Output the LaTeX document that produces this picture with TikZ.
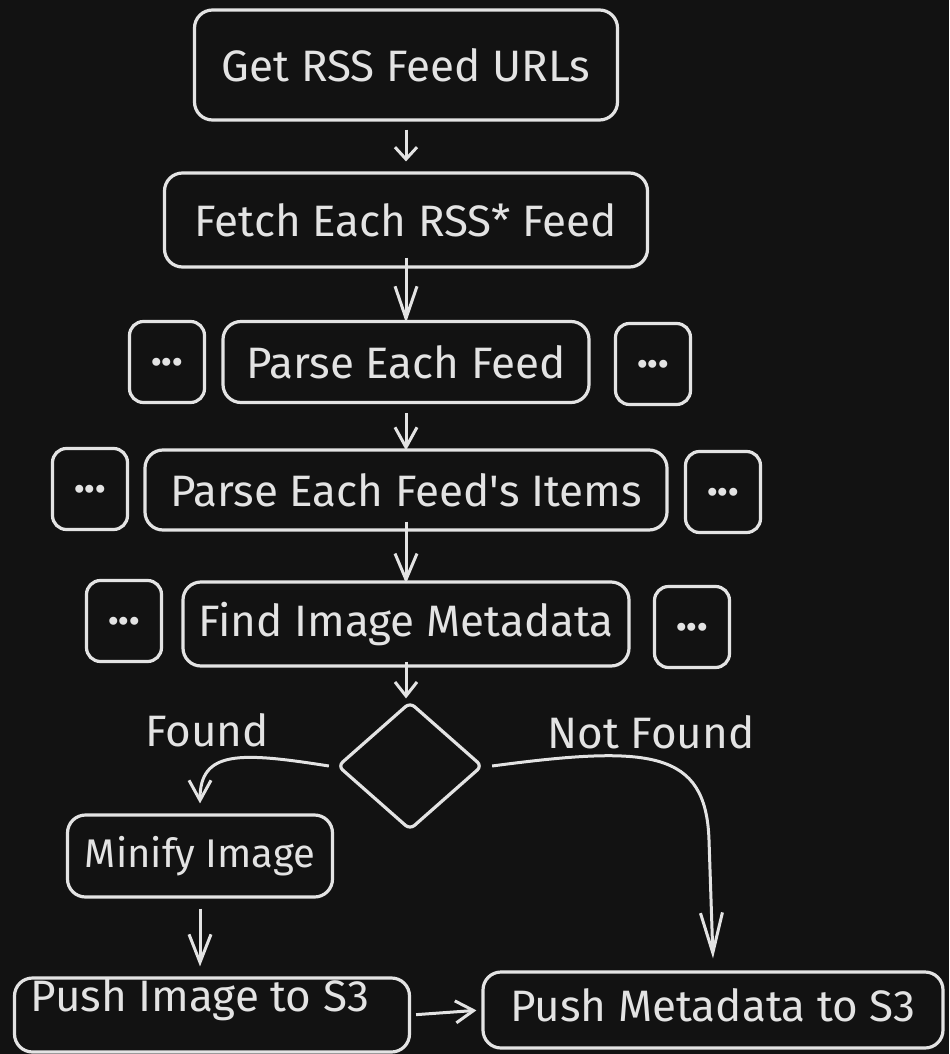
\documentclass[tikz,border=0pt]{standalone}
\usepackage{fontspec}
\setmainfont{Fira Sans}
\usetikzlibrary{arrows.meta,shapes.geometric}

\definecolor{canvas}{HTML}{121212}
\definecolor{chalk}{HTML}{E3E3E3}

\tikzset{
	stepbox/.style={draw=chalk, line width=1.6pt, rounded corners=9pt, inner sep=0pt,
		text=chalk, font=\fontsize{22}{25}\selectfont},
	dotbox/.style={stepbox, minimum width=37.5pt, minimum height=40.5pt, rounded corners=7pt,
		font=\fontsize{22}{25}\selectfont\bfseries},
	decision/.style={draw=chalk, line width=1.6pt, diamond, rounded corners=3pt,
		minimum width=72.5pt, minimum height=64pt, inner sep=0pt},
	tag/.style={text=chalk, font=\fontsize{22}{25}\selectfont, inner sep=0pt},
	flow/.style={draw=chalk, line width=1.5pt, -{Straight Barb[length=#1, width=11pt]}},
	flow/.default=8pt
}

\begin{document}
\begin{tikzpicture}[x=0.5pt, y=-0.5pt]
	\fill[canvas] (0,0) rectangle (949,1054);
	% main column
	\node[stepbox, minimum width=211.5pt, minimum height=55pt] (get) at (406,65) {Get RSS Feed URLs};
	\node[stepbox, minimum width=241.5pt, minimum height=47pt] (fetch) at (406,220) {Fetch Each RSS* Feed};
	\node[stepbox, minimum width=183pt, minimum height=40.5pt] (parse) at (406,362) {Parse Each Feed};
	\node[dotbox] (parseL) at (167,362) {...};
	\node[dotbox] (parseR) at (653,364) {...};
	\node[stepbox, minimum width=261pt, minimum height=40pt] (items) at (406,490) {Parse Each Feed\textquotesingle s Items};
	\node[dotbox] (itemsL) at (90,489) {...};
	\node[dotbox] (itemsR) at (723,492) {...};
	\node[stepbox, minimum width=223pt, minimum height=42pt] (find) at (406,624) {Find Image Metadata};
	\node[dotbox] (findL) at (124,621) {...};
	\node[dotbox] (findR) at (692,627) {...};
	% branch
	\node[decision] (check) at (410,766) {};
	\node[tag] (found) at (207,730) {Found};
	\node[tag] (notfound) at (651,732) {Not Found};
	\node[stepbox, minimum width=132.5pt, minimum height=41pt, font=\fontsize{20}{24}\selectfont] (minify) at (200,856) {Minify Image};
	\node[stepbox, minimum width=197.5pt, minimum height=37pt,
		label={[tag, yshift=7.5pt, xshift=-6pt]center:Push Image to S3}] (pushimg) at (212,1015) {};
	\node[stepbox, minimum width=230pt, minimum height=38pt,
		label={[tag, yshift=2.5pt]center:Push Metadata to S3}] (pushmeta) at (713,1010) {};

	% arrows
	\draw[flow=6pt, shorten <=4pt, shorten >=5pt] (get.south) -- (fetch.north);
	\draw[flow=16pt, shorten <=-5.5pt, shorten >=-1.5pt] (fetch.south) -- (parse.north);
	\draw[flow=10pt, shorten <=4.5pt, shorten >=-1pt] (parse.south) -- (items.north);
	\draw[flow=13pt, shorten <=-5pt, shorten >=-1.5pt] (items.south) -- (find.north);
	\draw[flow=7pt, shorten <=-3pt, shorten >=1pt] (find.south) -- (find.south |- check.north);
	\draw[flow=10pt] ([xshift=-3.5pt]check.west) .. controls (240,752) and (200,750) .. ([yshift=5pt]minify.north);
	\draw[flow=20pt] ([xshift=4pt]check.east) .. controls (650,745) and (706,750) .. (709,840)
		-- ([yshift=6pt]pushmeta.north);
	\draw[flow=14pt, shorten <=5pt, shorten >=5pt] (minify.south) -- (minify.south |- pushimg.north);
	\draw[flow=9pt, shorten <=2.5pt, shorten >=2.5pt] (pushimg.east) -- (pushmeta.west);
\end{tikzpicture}
\end{document}
